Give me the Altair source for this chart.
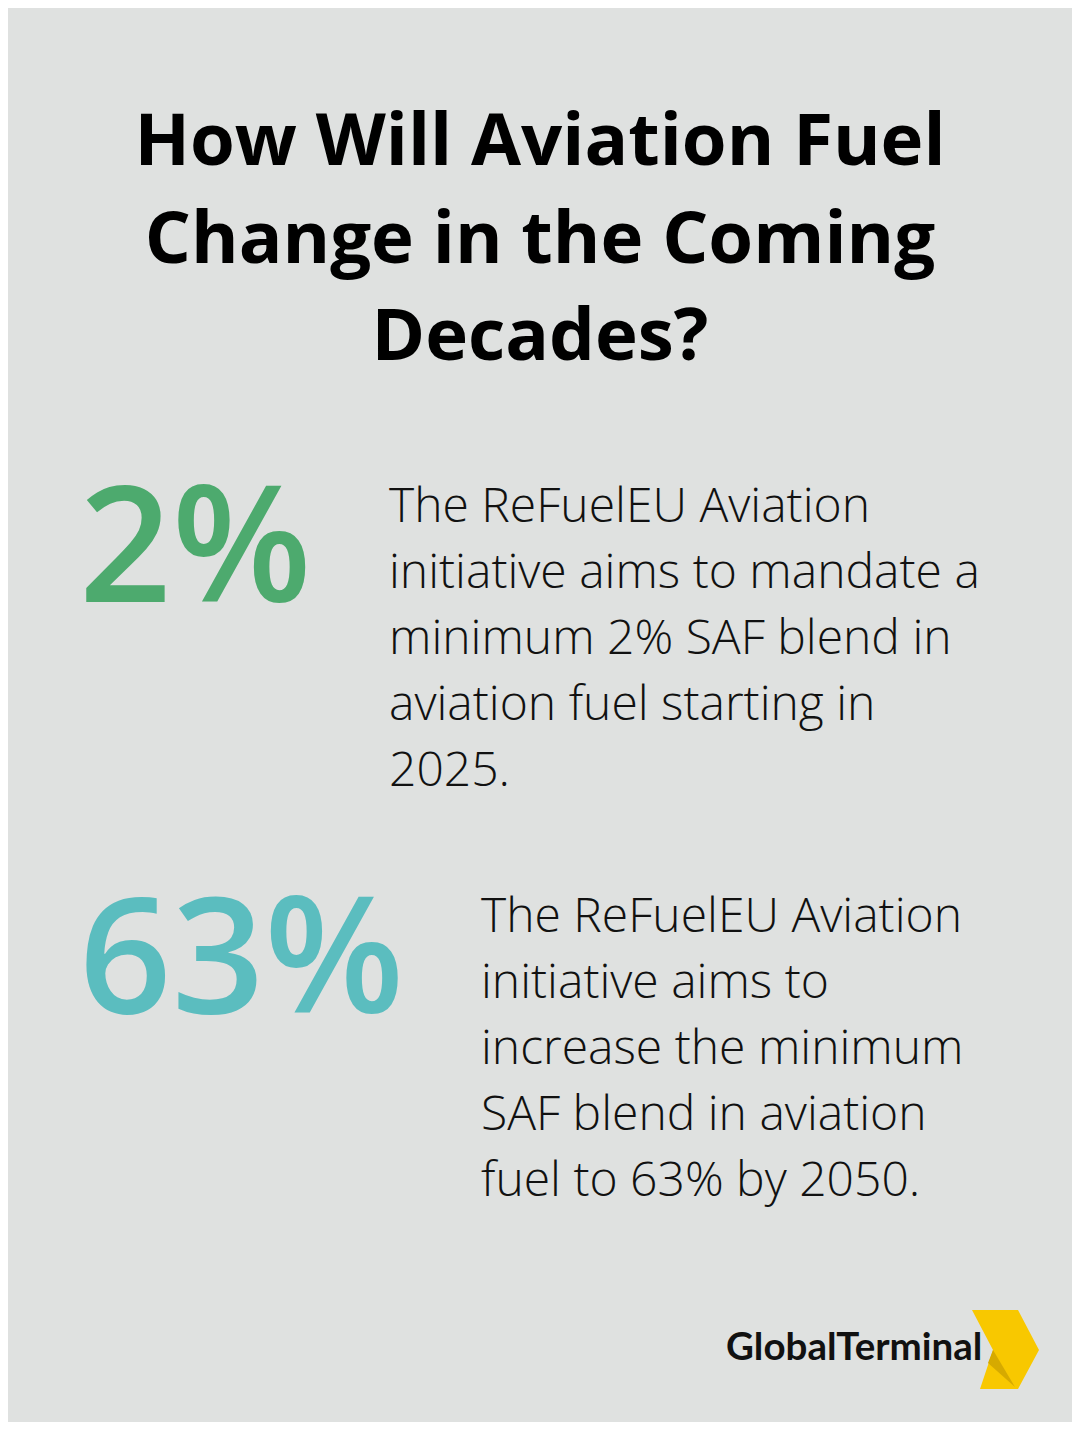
import altair as alt
import pandas as pd

# ---- content ----
title_lines = ["How Will Aviation Fuel", "Change in the Coming", "Decades?"]
stat_values = ["2%", "63%"]
stat_colors = ["#4DAA6E", "#5BBDBF"]
stat_descriptions = [
    ["The ReFuelEU Aviation", "initiative aims to mandate a", "minimum 2% SAF blend in",
     "aviation fuel starting in", "2025."],
    ["The ReFuelEU Aviation", "initiative aims to", "increase the minimum",
     "SAF blend in aviation", "fuel to 63% by 2050."],
]
brand_name = "GlobalTerminal"

# ---- layout (page pixels; page margin is 8px) ----
M = 8
W, H = 1080, 1430
BG = "#DFE1E0"
title_x, title_y0, title_dy, title_size = 540, 165, 97.5, 72.5
num_x, num_y = [79, 79], [602, 1013]
num_size = 162
desc_x, desc_y0 = [389, 481], [522, 932]
desc_dy, desc_size = 66, 48

title_df = pd.DataFrame({
    "text": title_lines,
    "x": [title_x - M] * len(title_lines),
    "y": [title_y0 + i * title_dy - M for i in range(len(title_lines))],
})
num_df = pd.DataFrame({
    "text": stat_values,
    "x": [v - M for v in num_x],
    "y": [v - M for v in num_y],
    "color": stat_colors,
})
rows = []
for k, lines in enumerate(stat_descriptions):
    for i, t in enumerate(lines):
        rows.append({"text": t, "x": desc_x[k] - M, "y": desc_y0[k] + i * desc_dy - M})
desc_df = pd.DataFrame(rows)
brand_df = pd.DataFrame({"text": [brand_name], "x": [726 - M], "y": [1360 - M]})
logo_df = pd.DataFrame({"x": [1005 - M], "y": [1349.5 - M]})

X = alt.X("x:Q", scale=None, axis=None)
Y = alt.Y("y:Q", scale=None, axis=None)

title = alt.Chart(title_df).mark_text(
    font="Open Sans", fontWeight="bold", fontSize=title_size, align="center",
    baseline="alphabetic", color="#000000"
).encode(x=X, y=Y, text="text:N")

nums = alt.Chart(num_df).mark_text(
    font="Open Sans", fontWeight=600, fontSize=num_size, align="left",
    baseline="alphabetic"
).encode(x=X, y=Y, text="text:N", color=alt.Color("color:N", scale=None))

desc = alt.Chart(desc_df).mark_text(
    font="Open Sans", fontWeight=300, fontSize=desc_size, align="left",
    baseline="alphabetic", color="#111111"
).encode(x=X, y=Y, text="text:N")

brand = alt.Chart(brand_df).mark_text(
    font="Lato", fontWeight="bold", fontSize=38.5, align="left",
    baseline="alphabetic", color="#111111"
).encode(x=X, y=Y, text="text:N")

chevron_path = "M -0.825 -0.9875 L 0.325 -0.9875 L 0.85 0.0125 L 0.325 0.9875 L -0.625 0.9875 L -0.3 0.0125 Z"
shadow_path = "M -0.3 0.0125 L -0.425 0.3375 L 0.25 0.9375 Z"

chev = alt.Chart(logo_df).mark_point(
    shape=chevron_path, filled=True, size=6400, color="#F8C800", opacity=1, strokeWidth=0
).encode(x=X, y=Y)
shadow = alt.Chart(logo_df).mark_point(
    shape=shadow_path, filled=True, size=6400, color="#D6AA00", opacity=1, strokeWidth=0
).encode(x=X, y=Y)

chart = alt.layer(title, nums, desc, chev, shadow, brand).properties(
    width=W - 2 * M, height=H - 2 * M, background=BG, padding=0,
    autosize=alt.AutoSizeParams(type="none")
).configure_view(stroke=None)

chart.save("out.html", embed_options={"renderer": "svg", "actions": False})
